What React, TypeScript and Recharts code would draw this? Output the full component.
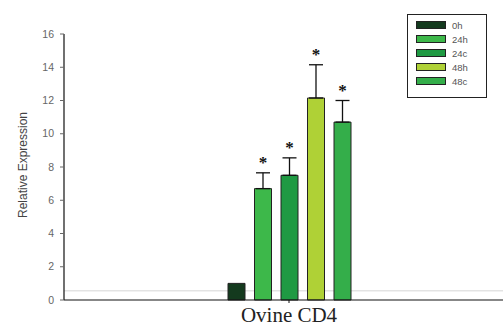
import React from 'react';
import { BarChart, Bar, XAxis, YAxis, ErrorBar, LabelList, CartesianGrid } from 'recharts';

const categories = ['Ovine CD4'];
const seriesNames = ['0h', '24h', '24c', '48h', '48c'];
const seriesKeys = ['h0', 'h24', 'c24', 'h48', 'c48'];
const seriesValues = [1.0, 6.7, 7.5, 12.15, 10.7];
const seriesErrors = [0, 0.95, 1.05, 2.0, 1.3];
const significant = [false, true, true, true, true];
const seriesColors = ['#143a1e', '#3db84a', '#1f9a43', '#afd136', '#34ae4a'];
const yTicks = [0, 2, 4, 6, 8, 10, 12, 14, 16];

const data = categories.map((name) => {
  const row: any = { name };
  seriesKeys.forEach((k, i) => {
    row[k] = seriesValues[i];
    row[k + '_err'] = [0, seriesErrors[i]];
  });
  return row;
});

const makeStar = (i: number) => (props: any) => {
  if (!significant[i]) return null;
  const { x, y, width, height } = props;
  const pxPerUnit = height / seriesValues[i];
  const top = y - seriesErrors[i] * pxPerUnit;
  return (
    <text
      x={x + width / 2}
      y={top - 5}
      textAnchor="middle"
      fontSize={17}
      fontWeight="bold"
      fontFamily="'Liberation Serif', serif"
      fill="#111"
    >
      *
    </text>
  );
};

const Legend = () => (
  <g>
    <rect x={407.5} y={14.5} width={79} height={83} fill="#fff" stroke="#222" strokeWidth={1} />
    {seriesNames.map((n, i) => (
      <g key={n}>
        <rect x={416.5} y={21.5 + i * 14} width={29} height={7} fill={seriesColors[i]} stroke="#222" strokeWidth={1} />
        <text x={452} y={28.5 + i * 14} fontSize={9.5} fill="#555" fontFamily="'Liberation Sans', Arial, sans-serif">
          {n}
        </text>
      </g>
    ))}
  </g>
);

export default function App() {
  return (
    <div style={{ position: 'absolute', left: 0, top: 0, width: 503, height: 327, overflow: 'hidden', background: '#fff' }}>
      <BarChart
        width={530}
        height={327}
        data={data}
        margin={{ top: 34, right: 16, bottom: 0, left: 0 }}
        barSize={17}
        barGap={9.5}
      >
        <CartesianGrid vertical={false} horizontalValues={[0.55]} stroke="#e3e3e3" strokeWidth={1.5} />
        <XAxis
          dataKey="name"
          height={27}
          axisLine={{ stroke: '#111', strokeWidth: 1.2 }}
          tickLine={{ stroke: '#111' }}
          tickSize={3}
          tick={{ fontSize: 21, fill: '#222', fontFamily: "'Liberation Serif', 'Times New Roman', serif" }}
          tickMargin={4}
        />
        <YAxis
          width={64}
          domain={[0, 16]}
          ticks={yTicks}
          interval={0}
          axisLine={{ stroke: '#111', strokeWidth: 1.2 }}
          tickLine={{ stroke: '#666' }}
          tickSize={4}
          tickMargin={6}
          tick={{ fontSize: 10.5, fill: '#666', fontFamily: "'Liberation Sans', Arial, sans-serif" }}
          label={{
            value: 'Relative Expression',
            angle: -90,
            position: 'insideLeft',
            dx: 18,
            dy: 51,
            style: { fontSize: 12, fill: '#444', fontFamily: "'Liberation Sans', Arial, sans-serif" },
          }}
        />
        {seriesKeys.map((k, i) => (
          <Bar key={k} dataKey={k} name={seriesNames[i]} fill={seriesColors[i]} stroke="#222" strokeWidth={1} isAnimationActive={false}>
            {seriesErrors[i] > 0 && (
              <ErrorBar dataKey={k + '_err'} width={7} stroke="#111" strokeWidth={1.3} direction="y" />
            )}
            <LabelList dataKey={k} content={makeStar(i)} />
          </Bar>
        ))}
        <Legend />
      </BarChart>
    </div>
  );
}
